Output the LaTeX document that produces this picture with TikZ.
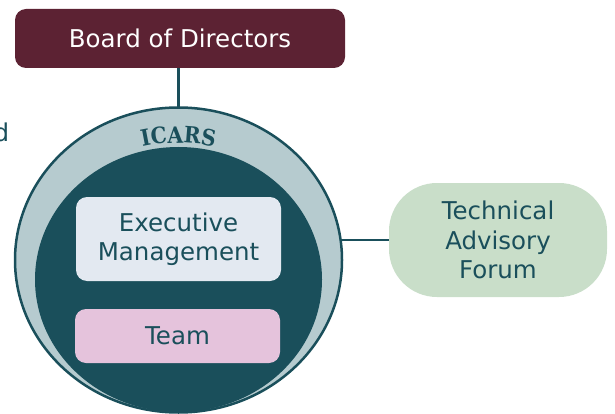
\documentclass[tikz,border=0pt]{standalone}
\usepackage{fontspec}
\setmainfont{DejaVu Sans}
\newfontfamily\icarsfont{DejaVu Serif Condensed}[BoldFont={DejaVu Serif Condensed Bold}]
\usetikzlibrary{decorations.text}
\definecolor{teal1}{HTML}{1A4F5B}
\definecolor{ringc}{HTML}{B6CBCF}
\definecolor{boardc}{HTML}{5C2233}
\definecolor{execc}{HTML}{E3E9F1}
\definecolor{teamc}{HTML}{E5C3DC}
\definecolor{tafc}{HTML}{C9DEC9}
\tikzset{
  boxbase/.style={rounded corners=11pt, inner sep=0pt, align=center,
    font=\fontsize{24.5}{29.5}\selectfont, text=teal1},
  link/.style={draw=teal1, line width=2.5pt}
}
\begin{document}
\begin{tikzpicture}[x=1pt,y=-1pt]
\useasboundingbox (0,0) rectangle (615,414);
% outer ring and inner disc
\draw[draw=teal1, fill=ringc, line width=2.5pt] (178.5,260) ellipse [x radius=163.5, y radius=152.5];
\fill[teal1] (178.5,279.5) ellipse [x radius=143.5, y radius=132.5];
\coordinate (ringtop) at (178.5,107.5);
\coordinate (ringright) at (342,240);
% curved label
\path[decorate, decoration={text along path, text align=center,
  text={|\icarsfont\bfseries\fontsize{22.5}{22.5}\selectfont\color{teal1}|ICARS}}]
  (178.5,260) ++(230:140 and 117) arc [start angle=230, end angle=310, x radius=140, y radius=117];
% nodes
\node[boxbase, fill=boardc, text=white, minimum width=330, minimum height=59] (board) at (180,38.5) {Board of Directors};
\node[boxbase, fill=execc, minimum width=205, minimum height=84] (exec) at (178.5,239) {Executive\\Management};
\node[boxbase, fill=teamc, minimum width=205, minimum height=54] (team) at (177.5,336) {Team};
\node[boxbase, fill=tafc, rounded corners=48pt, minimum width=218, minimum height=114] (taf) at (498,240) {Technical\\Advisory\\Forum};
\node[anchor=base east, inner sep=0pt, text=teal1, font=\fontsize{24.5}{29.5}\selectfont] (frag) at (9.5,142) {d};
% connectors
\draw[link] (board.south -| ringtop) -- (ringtop);
\draw[link] (ringright) -- (taf.west |- ringright);
\end{tikzpicture}
\end{document}
